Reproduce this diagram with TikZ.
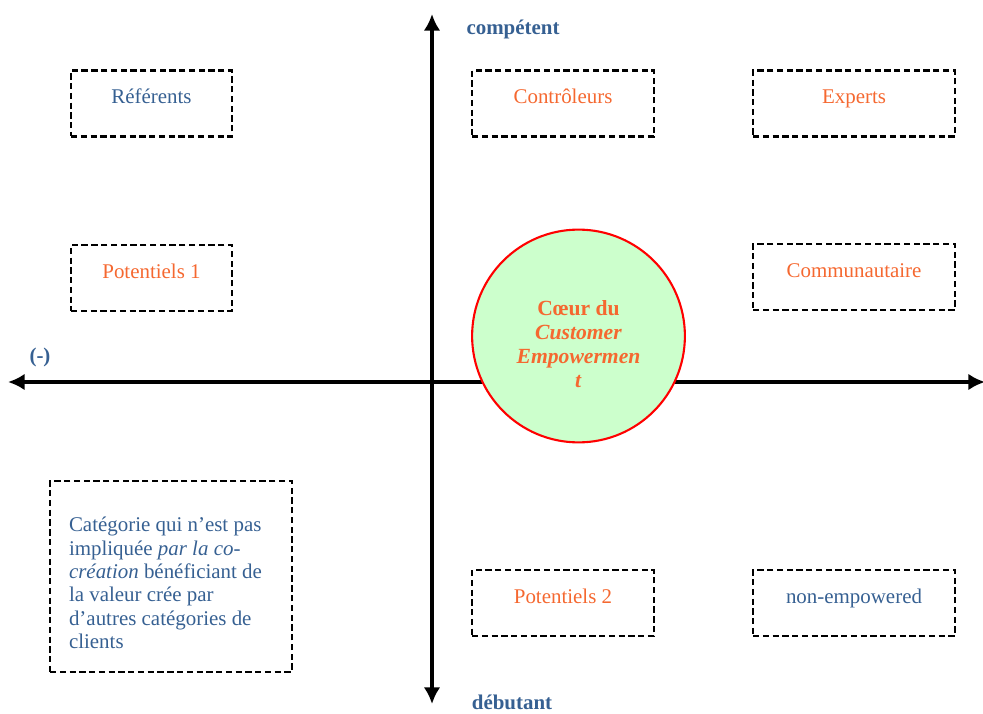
\documentclass[tikz,border=0pt]{standalone}
\usepackage{fontspec}
\setmainfont{Liberation Serif}
\usetikzlibrary{arrows.meta}
\definecolor{catblue}{RGB}{54,96,146}
\definecolor{catorange}{RGB}{245,104,48}
\definecolor{coeurgreen}{RGB}{204,255,204}

\begin{document}
\begin{tikzpicture}[x=0.2015cm,y=0.2015cm,
  axis/.style={line width=2.2pt,{Latex[length=9.5pt,width=9.5pt]}-{Latex[length=9.5pt,width=9.5pt]}},
  axislabel/.style={text=catblue,font=\bfseries\fontsize{12}{14}\selectfont},
  catbox/.style={draw,line width=1.3pt,dash pattern=on 3.6pt off 2pt,inner xsep=0pt,inner ysep=0pt,
    text height=18.9pt,text depth=18.9pt,font=\fontsize{12}{14}\selectfont},
  small/.style={catbox,minimum width=92.3pt},
  medium/.style={catbox,minimum width=104.3pt},
  large/.style={catbox,minimum width=115.7pt}]
\useasboundingbox (0,0) rectangle (98.3,71.3);

% axes
\coordinate (haut) at (43.2,69.9);
\coordinate (bas) at (43.2,0.9);
\coordinate (gauche) at (0.8,33.1);
\coordinate (droite) at (98.5,33.1);
\draw[axis] (bas) -- (haut);
\draw[axis] (gauche) -- (droite);
\node[axislabel] (competent) at (51.3,68.4) {compétent};
\node[axislabel,anchor=base] (debutant) at (51.2,0.4) {débutant};
\node[axislabel] (moins) at (4.0,35.6) {(-)};

% categories
\node[small,text=catblue] (referents) at (15.15,60.95) {Référents};
\node[medium,text=catorange] (controleurs) at (56.3,60.95) {Contrôleurs};
\node[large,text=catorange] (experts) at (85.4,60.95) {Experts};
\node[small,text=catorange] (potentiels1) at (15.15,43.5) {Potentiels 1};
\node[large,text=catorange] (communautaire) at (85.4,43.6) {Communautaire};
\node[medium,text=catorange] (potentiels2) at (56.3,11.0) {Potentiels 2};
\node[large,text=catblue] (nonempowered) at (85.4,11.0) {non-empowered};

% non impliquee
\node[draw,line width=1.3pt,dash pattern=on 3.6pt off 2pt,minimum width=138.7pt,minimum height=109.4pt] (implique) at (17.1,13.65) {};
\node[text=catblue,align=flush left,font=\fontsize{12}{13.4}\selectfont,anchor=west] (impliquetxt) at ([xshift=8pt,yshift=-3.7pt]implique.west)
  {Catégorie qui n'est pas\\impliquée \textit{par la co-}\\\textit{création} bénéficiant de\\la valeur crée par\\d'autres catégories de\\clients};

% coeur
\node[circle,draw=red,fill=coeurgreen,line width=1.2pt,minimum size=122pt,inner sep=0pt] (coeur) at (57.85,37.7) {};
\node[text=catorange,align=center,font=\bfseries\fontsize{12.4}{13.8}\selectfont] (coeurtxt) at ([yshift=-4.5pt]coeur.center)
  {Cœur du\\\textit{Customer}\\\textit{Empowermen}\\\textit{t}};
\end{tikzpicture}
\end{document}
